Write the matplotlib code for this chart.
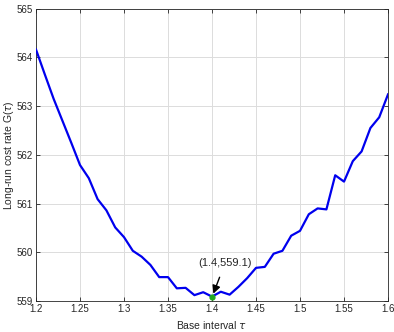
import numpy as np
import matplotlib.pyplot as plt

plt.rcParams['font.family'] = ['Liberation Sans', 'DejaVu Sans']
plt.rcParams['mathtext.fontset'] = 'dejavusans'

# base interval tau and long-run cost rate
tau = np.round(np.arange(1.20, 1.605, 0.01), 2)
cost = [564.16, 563.65, 563.15, 562.70, 562.25, 561.79, 561.52, 561.09, 560.86, 560.51,
        560.31, 560.03, 559.91, 559.74, 559.49, 559.49, 559.26, 559.27, 559.12, 559.18,
        559.09, 559.19, 559.13, 559.29, 559.47, 559.68, 559.70, 559.97, 560.03, 560.34,
        560.44, 560.78, 560.90, 560.88, 561.58, 561.45, 561.87, 562.07, 562.55, 562.77,
        563.24]
opt_tau = 1.4
opt_cost = 559.09

xticks = [1.2, 1.25, 1.3, 1.35, 1.4, 1.45, 1.5, 1.55, 1.6]
yticks = [559, 560, 561, 562, 563, 564, 565]

fig = plt.figure(figsize=(3.94, 3.32), dpi=100)
ax = fig.add_axes([0.0914, 0.0934, 0.8934, 0.8806])

ax.plot(tau, cost, color='#0000ee', lw=1.6, zorder=3)
ax.plot(opt_tau, opt_cost, 'o', color='#22aa22', ms=3.5, zorder=4)
ax.annotate('(1.4,559.1)', xy=(1.4015, 559.15), xytext=(1.4148, 559.78),
            ha='center', va='center', fontsize=8, color='#262626',
            arrowprops=dict(arrowstyle='-|>', color='k', lw=1.0,
                            mutation_scale=12, shrinkA=5, shrinkB=0))

ax.set_xlim(1.2, 1.6)
ax.set_ylim(559, 565)
ax.set_xticks(xticks)
ax.set_xticklabels([f'{t:g}' for t in xticks])
ax.set_yticks(yticks)
ax.grid(True, color='#dcdcdc', lw=0.7)
ax.tick_params(direction='in', labelsize=7, length=3, width=0.6,
               top=True, right=True, colors='#262626', pad=2.5)
for s in ax.spines.values():
    s.set_linewidth(0.6)
    s.set_color('#262626')

ax.set_xlabel(r'Base interval $\tau$', fontsize=7.5, labelpad=3, color='#262626')
ax.set_ylabel(r'Long-run cost rate G($\tau$)', fontsize=7.5, labelpad=0, color='#262626')

fig.savefig('out.png', dpi=100)
